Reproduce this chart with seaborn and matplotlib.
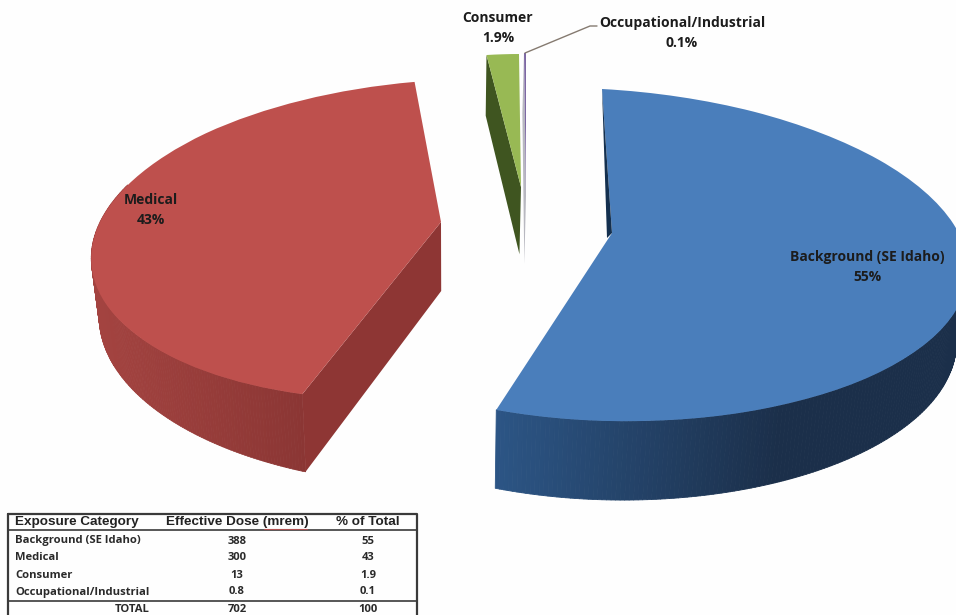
import numpy as np
import matplotlib
matplotlib.use("Agg")
import matplotlib.pyplot as plt
import matplotlib.transforms as mtrans
from matplotlib.collections import PolyCollection
from matplotlib.colors import to_rgb
import seaborn as sns

categories = ["Background (SE Idaho)", "Medical", "Consumer", "Occupational/Industrial"]
doses = [388, 300, 13, 0.8]
percents = ["55", "43", "1.9", "0.1"]
dose_labels = ["388", "300", "13", "0.8"]
total_dose = "702"
total_pct = "100"
headers = ["Exposure Category", "Effective Dose (mrem)", "% of Total"]
pie_labels = ["Background (SE Idaho)\n55%", "Medical\n43%", "Consumer\n1.9%", "Occupational/Industrial\n0.1%"]

top_colors = ["#4a7ebb", "#be504d", "#98b954", "#7d68a3"]
wall_left = ["#2c5585", "#a34340", "#3f5520", "#b8b8c0"]
wall_right = ["#1b2f4a", "#8b3634", "#3f5520", "#b8b8c0"]

# per-slice projection of the unit pie: apex, rim-ellipse centre, rim axes, skew
proj = [
    dict(A=(612, 233), C=(608, 255), U=(360, 12), V=(-6, -166), W=6),
    dict(A=(441, 222), C=(435, 240), U=(343, -8), V=(22, -160.3), W=0),
    dict(A=(521, 187), C=(521, 187), U=(280, 0), V=(0, -133), W=0),
    dict(A=(526, 196), C=(526, 196), U=(280, 0), V=(0, -143), W=0),
]

sns.set_theme(style="white")
plt.rcParams["font.family"] = ["Open Sans", "DejaVu Sans"]


class SliceWarp(mtrans.Transform):
    input_dims = 2
    output_dims = 2

    def __init__(self, A, C, U, V, W):
        super().__init__()
        self.A, self.C, self.U, self.V, self.W = map(np.asarray, (A, C, U, V, W))

    def transform_non_affine(self, values):
        v = np.asarray(values, dtype=float)
        x, y = v[:, 0], v[:, 1]
        r = np.hypot(x, y)
        xy = np.divide(x * y, r, out=np.zeros_like(r), where=r > 0)
        px = self.A[0] + self.U[0] * x + self.V[0] * y + r * (self.C[0] - self.A[0])
        py = self.A[1] + self.U[1] * x + self.V[1] * y + r * (self.C[1] - self.A[1]) + self.W * xy
        return np.column_stack([px, py])


def depth(p):
    p = np.atleast_2d(p)
    return np.column_stack([p[:, 0] - 0.022 * (p[:, 0] - 450),
                            p[:, 1] + 69 + 0.05 * (p[:, 1] - 222)
                            - 0.06 * np.clip(300 - p[:, 0], 0, None)])


fig = plt.figure(figsize=(9.56, 6.15), dpi=100, facecolor="#fefefe")
ax = fig.add_axes([0, 0, 1, 1])

wedges, _ = ax.pie(doses, startangle=90, counterclock=False, colors=top_colors, radius=1)
warps = [SliceWarp(**p) for p in proj]
for w, tr in zip(wedges, warps):
    w.set_transform(tr + ax.transData)
    w.set_zorder(5)
    w.set_linewidth(0)

ax.set_aspect("auto")
ax.set_xlim(0, 956)
ax.set_ylim(615, 0)
ax.axis("off")
ax.patch.set_visible(False)

# slice boundary angles follow from the doses
fracs = np.asarray(doses) / np.sum(doses)
edges = 90 - 360 * np.concatenate([[0], np.cumsum(fracs)])


def rim(tr, deg):
    t = np.radians(deg)
    return tr.transform_non_affine(np.column_stack([np.cos(t), np.sin(t)]))


def blend(c0, c1, f):
    return tuple((1 - f) * np.array(to_rgb(c0)) + f * np.array(to_rgb(c1)))


# curved outer walls
wall_spans = [(edges[1], 8, 496, 780), (edges[2] + 60, edges[1], 100, 302)]
for i, (tr, span) in enumerate(zip(warps[:2], wall_spans)):
    a0, a1, x0, x1 = span
    angs = np.linspace(a0, a1, 160)
    top = rim(tr, angs)
    bot = depth(top)
    polys, cols = [], []
    for k in range(len(angs) - 1):
        polys.append([top[k], top[k + 1], bot[k + 1], bot[k]])
        f = np.clip((top[k][0] - x0) / (x1 - x0), 0, 1)
        cols.append(blend(wall_left[i], wall_right[i], f))
    ax.add_collection(PolyCollection(polys, facecolors=cols, edgecolors=cols, linewidths=0.6, zorder=2))

# flat radial walls
A_red = warps[1].transform_non_affine(np.array([[0.0, 0.0]]))[0]
end_red = rim(warps[1], [edges[1]])[0]
ax.fill(*zip(A_red, end_red, depth(end_red)[0], depth(A_red)[0]), color="#8e3634", lw=0, zorder=3)

A_g = warps[2].transform_non_affine(np.array([[0.0, 0.0]]))[0]
start_g = rim(warps[2], [edges[2]])[0]
ax.fill(*zip(start_g, A_g, depth(A_g)[0], depth(start_g)[0]), color=wall_left[2], lw=0, zorder=3)

A_o = warps[3].transform_non_affine(np.array([[0.0, 0.0]]))[0]
start_o = rim(warps[3], [edges[3]])[0]
ax.fill(*zip(start_o, A_o, depth(A_o)[0], depth(start_o)[0]), color=wall_left[3], lw=0, zorder=3)

# inner wall sliver of the blue slice
A_b = warps[0].transform_non_affine(np.array([[0.0, 0.0]]))[0]
top_b = rim(warps[0], [edges[0]])[0]
ax.fill([top_b[0], A_b[0] - 5, A_b[0]], [top_b[1], A_b[1] + 5, A_b[1]], color="#14304f", lw=0, zorder=6)

# pie labels
txt = dict(fontweight="bold", fontsize=10, color="#1c1c1c", ha="center", va="center", linespacing=1.55, zorder=8)
ax.text(867, 267, pie_labels[0], **txt)
ax.text(151, 210, pie_labels[1], **txt)
ax.text(498, 28, pie_labels[2], **txt)
ax.text(682, 33, pie_labels[3], **txt)
ax.plot([525, 590, 597], [53, 26, 26], color="#857a70", lw=1.0, zorder=7)

# table
box = "#3a3a3a"
ax.plot([8, 417, 417, 8, 8], [514, 514, 640, 640, 514], color=box, lw=1.6, zorder=7)
ax.plot([8, 417], [530, 530], color=box, lw=1.2, zorder=7)
ax.plot([8, 417], [601, 601], color=box, lw=1.2, zorder=7)
ax.plot([264, 307], [529, 529], color="#b05050", lw=0.8, zorder=8)
hd = dict(fontweight="bold", fontsize=9.7, color="#222222", va="center", family=["Liberation Sans"])
ax.text(15, 522, headers[0], ha="left", **hd)
ax.text(237, 522, headers[1], ha="center", **hd)
ax.text(368, 522, headers[2], ha="center", **hd)
rows = [541, 558, 575, 592]
cell = dict(fontweight="bold", fontsize=8.1, color="#2a2a2a", va="center")
for y, c, d, p in zip(rows, categories, dose_labels, percents):
    ax.text(15, y, c, ha="left", **cell)
    ax.text(237, y, d, ha="center", **cell)
    ax.text(368, y, p, ha="center", **cell)
ax.text(132, 609, "TOTAL", ha="center", **cell)
ax.text(237, 609, total_dose, ha="center", **cell)
ax.text(368, 609, total_pct, ha="center", **cell)

fig.savefig("out.png", dpi=100, facecolor=fig.get_facecolor())
